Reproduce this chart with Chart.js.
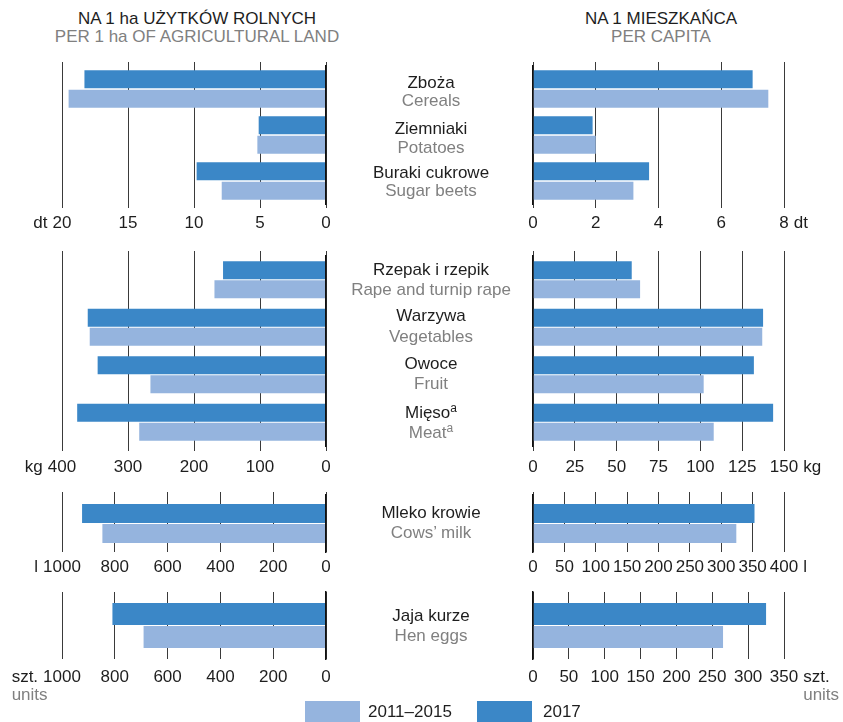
<!DOCTYPE html>
<html>
<head>
<meta charset="utf-8">
<script src="https://cdn.jsdelivr.net/npm/chart.js@4.4.1/dist/chart.umd.min.js"></script>
<style>
  body { margin: 0; width: 843px; height: 722px; position: relative; overflow: hidden; background: #fff;
         font-family: "Liberation Sans", Arial, sans-serif; }
  canvas { position: absolute; }
  .t { position: absolute; width: 240px; text-align: center; font-size: 17px; line-height: 20px; color: #1e1e1e; white-space: nowrap; }
  .h { width: 320px; }
  .g { color: #808080; }
  .t sup { font-size: 12px; line-height: 0; vertical-align: 6px; }
  .box { position: absolute; width: 55px; height: 21px; }
</style>
</head>
<body>

<div class="t h" style="left:37px;top:9px">NA 1 ha UŻYTKÓW ROLNYCH</div>
<div class="t h g" style="left:37px;top:27px">PER 1 ha OF AGRICULTURAL LAND</div>
<div class="t h" style="left:501px;top:9px">NA 1 MIESZKAŃCA</div>
<div class="t h g" style="left:501px;top:27px">PER CAPITA</div>

<script>
// categories (Polish / English), footnote marks
const cropsPl = ['Zboża', 'Ziemniaki', 'Buraki cukrowe'];
const cropsEn = ['Cereals', 'Potatoes', 'Sugar beets'];
const otherPl = ['Rzepak i rzepik', 'Warzywa', 'Owoce', 'Mięso'];
const otherEn = ['Rape and turnip rape', 'Vegetables', 'Fruit', 'Meat'];
const otherNote = ['', '', '', 'a'];
const milkPl = ['Mleko krowie'];
const milkEn = ['Cows’ milk'];
const eggsPl = ['Jaja kurze'];
const eggsEn = ['Hen eggs'];

// series
const seriesNames = ['2017', '2011–2015'];

// per 1 ha of agricultural land
const cropsHa2017 = [18.3, 5.1, 9.8];
const cropsHa1115 = [19.5, 5.2, 7.9];
const otherHa2017 = [156, 361, 346, 377];
const otherHa1115 = [169, 358, 266, 283];
const milkHa2017 = [924];
const milkHa1115 = [847];
const eggsHa2017 = [809];
const eggsHa1115 = [691];

// per capita
const cropsCap2017 = [7.0, 1.9, 3.7];
const cropsCap1115 = [7.5, 2.0, 3.2];
const otherCap2017 = [59, 137.5, 132, 143.5];
const otherCap1115 = [64, 137, 102, 108];
const milkCap2017 = [353];
const milkCap1115 = [324];
const eggsCap2017 = [325];
const eggsCap1115 = [265];

// tick labels
const cropsHaTicks = [0, 5, 10, 15, 20];
const cropsCapTicks = [0, 2, 4, 6, 8];
const otherHaTicks = [0, 100, 200, 300, 400];
const otherCapTicks = [0, 25, 50, 75, 100, 125, 150];
const milkHaTicks = [0, 200, 400, 600, 800, 1000];
const milkCapTicks = [0, 50, 100, 150, 200, 250, 300, 350, 400];
const eggsHaTicks = [0, 200, 400, 600, 800, 1000];
const eggsCapTicks = [0, 50, 100, 150, 200, 250, 300, 350];

// styling / layout
const DARK = '#3b87c7';
const LIGHT = '#95b4de';
const FONT = '"Liberation Sans", Arial, sans-serif';
Chart.defaults.font.family = FONT;
Chart.defaults.font.size = 17;
Chart.defaults.color = '#1e1e1e';

const rows = [
  { gridTop: 62,  areaTop: 66,  areaBottom: 204, gridBottom: 208, tickPad: 5, catPct: 0.848, barPct: 0.923 },
  { gridTop: 251, areaTop: 256, areaBottom: 446, gridBottom: 451, tickPad: 6, catPct: 0.80,  barPct: 0.947 },
  { gridTop: 492, areaTop: 495, areaBottom: 552, gridBottom: 552, tickPad: 5, catPct: 0.70,  barPct: 0.95 },
  { gridTop: 592, areaTop: 592, areaBottom: 659, gridBottom: 659, tickPad: 8, catPct: 0.687, barPct: 0.957 }
];
const sides = {
  left:  { x: 0,   w: 420, padL: 62,  padR: 94 },
  right: { x: 420, w: 423, padL: 113, padR: 59 }
};

// unit text next to the last tick label ("dt 20", "8 dt", ...)
const unitPlugin = {
  id: 'unitLabel',
  afterDraw(chart, args, opts) {
    if (!opts.text) return;
    const sc = chart.scales.x;
    const ctx = chart.ctx;
    const x = sc.getPixelForValue(sc.max);
    const y = sc.top + sc.options.grid.tickLength + sc.options.ticks.padding + 10.2;
    ctx.save();
    ctx.font = '17px ' + FONT;
    ctx.textBaseline = 'middle';
    const w = ctx.measureText(String(sc.max)).width;
    const uw = ctx.measureText(opts.text).width;
    const ux = opts.side === 'left' ? x - w / 2 - 5 - uw : x + w / 2 + 5;
    ctx.textAlign = 'left';
    ctx.fillStyle = '#1e1e1e';
    ctx.fillText(opts.text, ux, y);
    if (opts.sub) {
      ctx.fillStyle = '#808080';
      ctx.fillText(opts.sub, ux, y + 18);
    }
    ctx.restore();
  }
};

function panel(side, row, cats, v2017, v1115, ticks, unit, sub) {
  const s = sides[side];
  const r = rows[row];
  const topExt = r.areaTop - r.gridTop;
  const botExt = r.gridBottom - r.areaBottom;
  const canvasTop = r.gridTop - 2;
  // chart.js counts the tick padding twice in the axis height
  const axisH = botExt + 2 * r.tickPad + 20.4;
  const H = Math.ceil(r.areaBottom - canvasTop + axisH + 36);
  const padB = H - (r.areaBottom - canvasTop) - axisH;

  const cv = document.createElement('canvas');
  cv.width = s.w; cv.height = H;
  cv.style.left = s.x + 'px'; cv.style.top = canvasTop + 'px';
  cv.style.width = s.w + 'px'; cv.style.height = H + 'px';
  document.body.appendChild(cv);

  const rev = side === 'left';
  const setTicks = sc => { sc.ticks = ticks.map(v => ({ value: v })); };
  const scales = {
    x: {
      type: 'linear', position: 'bottom', reverse: rev,
      min: ticks[0], max: ticks[ticks.length - 1],
      afterBuildTicks: setTicks,
      grid: { color: '#3a3a3a', lineWidth: 1, drawTicks: true, tickLength: botExt },
      border: { display: false },
      ticks: { padding: r.tickPad, autoSkip: false, maxRotation: 0, minRotation: 0,
               callback: v => String(v) }
    },
    y: {
      type: 'category', position: rev ? 'right' : 'left', offset: true,
      grid: { display: false, drawTicks: false },
      ticks: { display: false },
      border: { display: true, color: '#111', width: 1.5, z: 1 }
    }
  };
  if (topExt > 0) {
    // extra top axis only to let the grid lines poke above the bars
    scales.x2 = {
      type: 'linear', position: 'top', reverse: rev,
      min: ticks[0], max: ticks[ticks.length - 1],
      afterBuildTicks: setTicks,
      grid: { color: '#3a3a3a', lineWidth: 1, drawOnChartArea: false, drawTicks: true, tickLength: topExt },
      border: { display: false },
      ticks: { display: false }
    };
  }

  const chart = new Chart(cv, {
    type: 'bar',
    data: {
      labels: cats,
      datasets: [
        { label: seriesNames[0], data: v2017, backgroundColor: DARK,
          categoryPercentage: r.catPct, barPercentage: r.barPct },
        { label: seriesNames[1], data: v1115, backgroundColor: LIGHT,
          categoryPercentage: r.catPct, barPercentage: r.barPct }
      ]
    },
    options: {
      indexAxis: 'y',
      responsive: false,
      animation: false,
      devicePixelRatio: 1,
      layout: { padding: { left: s.padL, right: s.padR, top: 2, bottom: padB } },
      scales: scales,
      plugins: {
        legend: { display: false },
        tooltip: { enabled: false },
        unitLabel: { text: unit, sub: sub, side: side }
      }
    },
    plugins: [unitPlugin]
  });

  // nudge the padding so the plot area lands exactly where wanted
  const a = chart.chartArea;
  const dB = a.bottom - (r.areaBottom - canvasTop);
  const dT = a.top - (r.areaTop - canvasTop);
  if (Math.abs(dB) > 0.2 || Math.abs(dT) > 0.2) {
    chart.options.layout.padding.bottom = padB + dB;
    chart.options.layout.padding.top = 2 - dT;
    chart.update();
  }
}

panel('left', 0, cropsPl, cropsHa2017, cropsHa1115, cropsHaTicks, 'dt');
panel('right', 0, cropsPl, cropsCap2017, cropsCap1115, cropsCapTicks, 'dt');
panel('left', 1, otherPl, otherHa2017, otherHa1115, otherHaTicks, 'kg');
panel('right', 1, otherPl, otherCap2017, otherCap1115, otherCapTicks, 'kg');
panel('left', 2, milkPl, milkHa2017, milkHa1115, milkHaTicks, 'l');
panel('right', 2, milkPl, milkCap2017, milkCap1115, milkCapTicks, 'l');
panel('left', 3, eggsPl, eggsHa2017, eggsHa1115, eggsHaTicks, 'szt.', 'units');
panel('right', 3, eggsPl, eggsCap2017, eggsCap1115, eggsCapTicks, 'szt.', 'units');

// category labels between the two halves (Polish line / English line centres)
const labelRows = [
  { pl: cropsPl, en: cropsEn, y: [[83, 101], [129, 148], [173, 191]] },
  { pl: otherPl, en: otherEn, note: otherNote, y: [[270, 290], [316, 337], [364, 384], [413, 433]] },
  { pl: milkPl, en: milkEn, y: [[513, 533]] },
  { pl: eggsPl, en: eggsEn, y: [[616, 636]] }
];
labelRows.forEach(g => {
  g.pl.forEach((name, i) => {
    const note = g.note && g.note[i] ? '<sup>' + g.note[i] + '</sup>' : '';
    const a = document.createElement('div');
    a.className = 't';
    a.style.left = '311px'; a.style.top = (g.y[i][0] - 10) + 'px';
    a.innerHTML = name + note;
    const b = document.createElement('div');
    b.className = 't g';
    b.style.left = '311px'; b.style.top = (g.y[i][1] - 10) + 'px';
    b.innerHTML = g.en[i] + note;
    document.body.appendChild(a);
    document.body.appendChild(b);
  });
});

// legend
[[LIGHT, seriesNames[1], 305, 368], [DARK, seriesNames[0], 477, 543]].forEach(([c, txt, bx, tx]) => {
  const box = document.createElement('div');
  box.className = 'box';
  box.style.left = bx + 'px'; box.style.top = '701px'; box.style.background = c;
  const lab = document.createElement('div');
  lab.className = 't';
  lab.style.width = 'auto'; lab.style.textAlign = 'left';
  lab.style.left = tx + 'px'; lab.style.top = '702px';
  lab.textContent = txt;
  document.body.appendChild(box);
  document.body.appendChild(lab);
});
</script>
</body>
</html>
